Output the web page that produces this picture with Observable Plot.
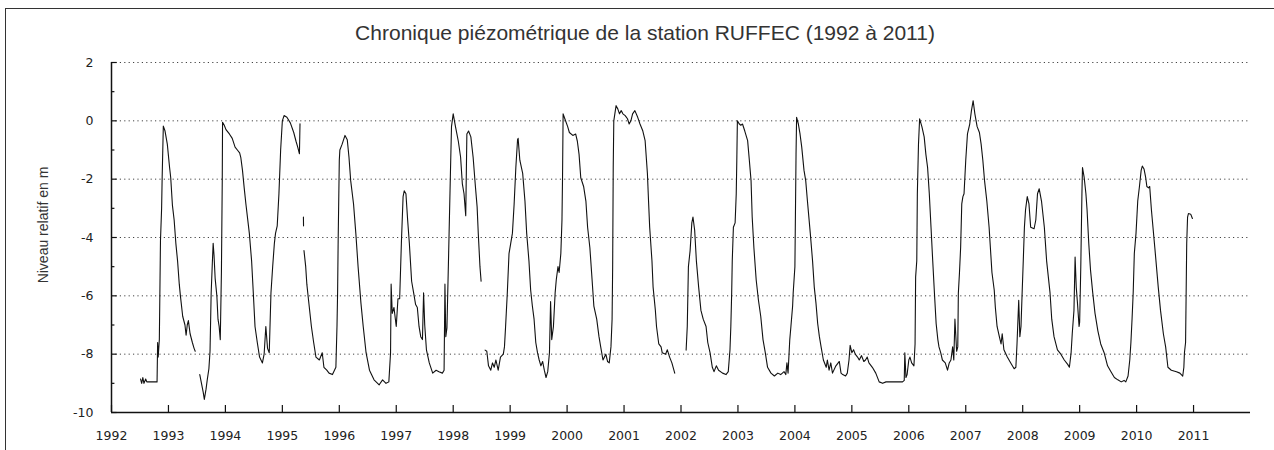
<!DOCTYPE html>
<html>
<head>
<meta charset="utf-8">
<script src="https://cdn.jsdelivr.net/npm/d3@7"></script>
<script src="https://cdn.jsdelivr.net/npm/@observablehq/plot@0.6"></script>
<style>
  body { margin: 0; background: #fff; }
  #wrap { position: relative; width: 1274px; height: 450px; overflow: hidden; background: #fff; }
  #frame { position: absolute; left: 5px; top: 8px; width: 1300px; height: 500px;
           border-top: 1.5px solid #333; border-left: 1.5px solid #333; }
  #title { position: absolute; left: 645px; top: 22px; transform: translateX(-50%);
           font: 21px "Liberation Sans", Arial, sans-serif; color: #333; white-space: nowrap; line-height: 1; }
  #ylab { position: absolute; left: 43px; top: 225px; transform: translate(-50%, -50%) rotate(-90deg);
          font: 14px "Liberation Sans", Arial, sans-serif; color: #333; white-space: nowrap; }
  #chart { position: absolute; left: 0; top: 50px; }
</style>
</head>
<body>
<div id="wrap">
  <div id="frame"></div>
  <div id="title">Chronique piézométrique de la station RUFFEC (1992 à 2011)</div>
  <div id="ylab">Niveau relatif en m</div>
  <div id="chart"></div>
</div>
<script>
// Ticks
const anneesTicks = [1992,1993,1994,1995,1996,1997,1998,1999,2000,2001,2002,2003,2004,2005,2006,2007,2008,2009,2010,2011];
const niveauxTicks = [-10,-8,-6,-4,-2,0,2];
const niveauxMineurs = [-9,-7,-5,-3,-1,1];
const grilleY = [-8,-6,-4,-2,0,2];

// Series: decimal year / relative level (m); null = gap in record
const annees = [
1992.51,1992.53,1992.55,1992.57,1992.60,1992.62,1992.66,1992.72,1992.80,1992.81,1992.82,1992.84,1992.86,1992.88,1992.89,1992.91,1992.94,1992.98,1993.02,1993.04,1993.07,1993.10,1993.13,1993.16,1993.19,1993.21,1993.25,1993.29,1993.31,1993.33,1993.35,1993.38,1993.42,1993.45,1993.47,
1993.50,
1993.55,1993.58,1993.61,1993.63,1993.66,1993.68,1993.71,1993.73,1993.75,1993.77,1993.785,1993.80,1993.82,1993.85,1993.87,1993.89,1993.91,1993.93,1993.945,1993.95,1993.98,1994.01,1994.07,1994.12,1994.17,1994.21,1994.25,1994.27,1994.30,1994.33,1994.36,1994.42,1994.46,1994.49,1994.52,1994.56,1994.60,1994.65,1994.68,1994.71,1994.74,1994.77,1994.80,1994.83,1994.86,1994.88,1994.91,1994.94,1994.97,1995.00,1995.03,1995.08,1995.14,1995.20,1995.24,1995.27,1995.30,1995.31,
1995.34,
1995.37,1995.372,
1995.375,
1995.38,1995.41,1995.43,1995.46,1995.51,1995.55,1995.59,1995.65,1995.70,1995.73,1995.78,1995.82,1995.88,1995.94,1995.96,1995.97,1995.98,1996.00,1996.01,1996.05,1996.10,1996.14,1996.17,1996.20,1996.25,1996.29,1996.33,1996.38,1996.42,1996.47,1996.53,1996.61,1996.70,1996.76,1996.82,1996.87,1996.90,1996.91,1996.93,1996.96,1997.00,1997.03,1997.06,1997.09,1997.12,1997.14,1997.17,1997.20,1997.23,1997.27,1997.31,1997.34,1997.37,1997.40,1997.43,1997.46,1997.48,1997.50,1997.53,1997.58,1997.64,1997.70,1997.75,1997.81,1997.84,1997.855,1997.87,1997.89,1997.92,1997.95,1997.97,1998.00,1998.04,1998.09,1998.13,1998.16,1998.19,1998.22,1998.24,1998.27,1998.31,1998.35,1998.39,1998.42,1998.44,1998.47,1998.49,
1998.52,
1998.56,1998.59,1998.62,1998.66,1998.69,1998.72,1998.75,1998.79,1998.83,1998.88,1998.90,1998.92,1998.95,1998.98,1999.01,1999.04,1999.07,1999.10,1999.13,1999.14,1999.17,1999.22,1999.26,1999.29,1999.33,1999.36,1999.39,1999.42,1999.45,1999.48,1999.51,1999.54,1999.57,1999.60,1999.63,1999.66,1999.69,1999.71,1999.73,1999.76,1999.79,1999.81,1999.84,1999.86,1999.89,1999.91,1999.92,1999.93,1999.96,2000.01,2000.04,2000.10,2000.15,2000.18,2000.21,2000.24,2000.29,2000.33,2000.36,2000.40,2000.43,2000.47,2000.52,2000.56,2000.59,2000.63,2000.68,2000.71,2000.74,2000.77,2000.79,2000.80,2000.81,2000.82,2000.86,2000.89,2000.92,2000.95,2000.98,2001.02,2001.06,2001.09,2001.12,2001.15,2001.19,2001.24,2001.28,2001.33,2001.37,2001.41,2001.43,2001.45,2001.49,2001.51,2001.55,2001.57,2001.61,2001.65,2001.67,2001.73,2001.76,2001.80,2001.84,2001.89,
2001.95,
2002.09,2002.11,2002.13,2002.16,2002.19,2002.21,2002.24,2002.27,2002.31,2002.35,2002.39,2002.44,2002.47,2002.51,2002.55,2002.58,2002.62,2002.66,2002.73,2002.79,2002.83,2002.86,2002.875,2002.89,2002.90,2002.92,2002.95,2002.97,2002.98,2002.99,2003.02,2003.05,2003.08,2003.12,2003.17,2003.20,2003.23,2003.25,2003.28,2003.32,2003.36,2003.40,2003.44,2003.48,2003.52,2003.58,2003.64,2003.70,2003.75,2003.81,2003.84,2003.86,2003.88,2003.91,2003.93,2003.96,2003.97,2004.00,2004.02,2004.03,2004.06,2004.09,2004.12,2004.16,2004.19,2004.22,2004.27,2004.31,2004.34,2004.37,2004.40,2004.43,2004.46,2004.50,2004.55,2004.57,2004.60,2004.63,2004.66,2004.72,2004.78,2004.81,2004.84,2004.89,2004.92,2004.95,2004.97,2005.00,2005.03,2005.06,2005.10,2005.13,2005.17,2005.21,2005.24,2005.27,2005.30,2005.36,2005.42,2005.48,2005.54,2005.60,2005.65,2005.71,2005.77,2005.83,2005.89,2005.92,2005.93,2005.95,2005.97,2006.00,2006.02,2006.05,2006.09,2006.11,2006.12,2006.14,2006.15,2006.17,2006.19,2006.23,2006.27,2006.30,2006.33,2006.36,2006.39,2006.42,2006.45,2006.48,2006.51,2006.53,2006.56,2006.59,2006.64,2006.68,2006.71,2006.74,2006.77,2006.79,2006.81,2006.84,2006.86,2006.87,2006.89,2006.91,2006.93,2006.95,2006.97,2007.00,2007.03,2007.07,2007.10,2007.13,2007.16,2007.20,2007.24,2007.27,2007.30,2007.33,2007.37,2007.41,2007.46,2007.50,2007.52,2007.55,2007.59,2007.62,2007.64,2007.67,2007.73,2007.79,2007.85,2007.88,2007.90,2007.93,2007.95,2007.97,2007.99,2008.01,2008.03,2008.05,2008.08,2008.11,2008.14,2008.20,2008.23,2008.26,2008.29,2008.33,2008.38,2008.42,2008.45,2008.48,2008.51,2008.55,2008.61,2008.67,2008.73,2008.79,2008.82,2008.85,2008.87,2008.90,2008.92,2008.94,2008.96,2008.99,2009.00,2009.02,2009.04,2009.05,2009.08,2009.11,2009.13,2009.16,2009.19,2009.23,2009.27,2009.32,2009.37,2009.43,2009.49,2009.55,2009.61,2009.67,2009.73,2009.78,2009.81,2009.85,2009.88,2009.90,2009.92,2009.94,2009.96,2009.99,2010.02,2010.05,2010.08,2010.10,2010.13,2010.16,2010.18,2010.21,2010.23,2010.26,2010.32,2010.38,2010.42,2010.47,2010.51,2010.55,2010.61,2010.70,2010.76,2010.81,2010.83,2010.84,2010.86,2010.87,2010.88,2010.895,2010.91,2010.95,2010.98
];
const niveaux = [
-8.85,-9.0,-8.8,-9.0,-8.85,-8.95,-8.95,-8.95,-8.95,-7.6,-8.1,-7.5,-4.1,-3.0,-1.9,-0.18,-0.35,-0.8,-1.6,-1.95,-2.9,-3.4,-4.2,-4.8,-5.6,-6.0,-6.7,-7.0,-7.35,-7.0,-6.85,-7.3,-7.6,-7.8,-7.9,
null,
-8.7,-9.0,-9.3,-9.55,-9.2,-8.9,-8.5,-7.9,-5.9,-4.9,-4.2,-4.6,-5.4,-6.0,-6.8,-7.05,-7.5,-5.2,-2.0,-0.05,-0.15,-0.3,-0.45,-0.6,-0.9,-1.0,-1.1,-1.25,-1.7,-2.3,-2.85,-3.85,-4.8,-5.9,-7.05,-7.6,-8.1,-8.3,-8.0,-7.05,-7.8,-7.95,-5.9,-5.0,-4.2,-3.86,-3.6,-2.5,-1.0,0.0,0.18,0.12,-0.07,-0.4,-0.7,-0.9,-1.13,-0.1,
null,
-3.3,-3.6,
null,
-4.45,-5.0,-5.6,-6.15,-7.05,-7.6,-8.1,-8.2,-7.95,-8.45,-8.55,-8.65,-8.7,-8.45,-7.0,-5.9,-4.1,-1.35,-1.0,-0.8,-0.5,-0.65,-1.25,-2.05,-2.85,-3.85,-5.0,-6.25,-7.05,-7.95,-8.55,-8.88,-9.05,-8.88,-9.0,-8.95,-7.95,-5.6,-6.6,-6.4,-7.05,-6.1,-6.1,-4.2,-2.6,-2.4,-2.5,-3.4,-4.2,-5.5,-5.95,-6.3,-6.4,-7.05,-7.4,-7.5,-5.9,-7.0,-7.85,-8.3,-8.65,-8.55,-8.6,-8.65,-8.55,-5.6,-7.4,-7.1,-4.55,-1.9,-0.2,0.24,-0.2,-0.7,-1.25,-2.15,-2.5,-3.25,-0.45,-0.35,-0.55,-1.25,-2.25,-2.95,-3.85,-5.0,-5.5,
null,
-7.86,-7.9,-8.4,-8.55,-8.3,-8.45,-8.2,-8.55,-8.1,-8.0,-7.75,-7.05,-5.9,-4.55,-4.2,-3.85,-2.85,-1.6,-0.65,-0.6,-1.35,-1.8,-2.75,-3.85,-4.8,-5.8,-6.35,-6.8,-7.6,-7.95,-8.2,-8.4,-8.25,-8.55,-8.8,-8.6,-7.95,-6.2,-7.5,-7.05,-5.9,-5.45,-5.0,-5.2,-4.55,-3.4,-1.9,0.24,0.07,-0.2,-0.4,-0.5,-0.45,-0.7,-1.15,-1.95,-2.25,-2.75,-3.65,-4.35,-5.2,-6.35,-6.8,-7.4,-7.75,-8.2,-8.0,-8.25,-8.3,-7.75,-6.8,-5.0,-1.6,0.0,0.52,0.41,0.24,0.35,0.24,0.18,0.07,-0.11,0.0,0.24,0.35,0.12,-0.11,-0.35,-0.68,-1.8,-2.75,-3.65,-4.8,-5.7,-6.5,-7.05,-7.65,-7.75,-7.95,-8.0,-7.85,-8.1,-8.3,-8.65,
null,
-7.86,-7.05,-5.0,-4.45,-3.5,-3.3,-3.75,-4.8,-5.7,-6.5,-6.8,-7.05,-7.6,-7.95,-8.45,-8.6,-8.4,-8.55,-8.65,-8.7,-8.6,-7.85,-7.05,-5.9,-4.8,-3.65,-3.5,-2.5,-1.35,0.0,-0.1,-0.15,-0.11,-0.35,-0.68,-1.35,-2.05,-3.3,-4.35,-5.45,-6.15,-6.7,-7.5,-7.95,-8.45,-8.65,-8.75,-8.65,-8.7,-8.6,-8.7,-8.3,-8.65,-7.5,-7.05,-6.35,-5.9,-5.0,-1.15,0.12,-0.1,-0.45,-0.9,-1.7,-2.05,-2.75,-3.85,-4.8,-5.7,-6.25,-6.95,-7.4,-7.75,-8.2,-8.45,-8.2,-8.55,-8.3,-8.65,-8.4,-8.25,-8.65,-8.7,-8.75,-8.65,-8.2,-7.7,-7.95,-7.85,-8.0,-8.1,-8.2,-8.05,-8.25,-8.2,-8.1,-8.3,-8.45,-8.65,-8.95,-9.0,-8.95,-8.95,-8.95,-8.95,-8.95,-8.95,-8.9,-7.95,-8.8,-8.7,-8.2,-8.1,-8.3,-8.4,-7.65,-5.35,-4.8,-2.5,-0.8,0.07,-0.2,-0.55,-1.15,-1.6,-2.5,-3.65,-4.8,-5.9,-6.95,-7.5,-7.75,-7.95,-8.2,-8.3,-8.55,-8.3,-8.2,-7.75,-8.2,-6.8,-7.9,-7.75,-5.9,-5.2,-4.35,-2.85,-2.6,-2.5,-1.35,-0.45,-0.11,0.35,0.69,0.24,-0.2,-0.4,-0.8,-1.35,-2.05,-2.75,-3.65,-5.2,-5.8,-6.4,-7.05,-7.4,-7.65,-7.3,-7.85,-8.1,-8.3,-8.5,-8.45,-7.65,-6.15,-7.4,-7.05,-5.9,-4.8,-3.65,-3.05,-2.6,-2.85,-3.65,-3.7,-3.4,-2.5,-2.33,-2.75,-3.65,-4.8,-5.35,-5.9,-6.8,-7.4,-7.85,-8.0,-8.2,-8.35,-8.45,-7.95,-7.3,-6.5,-4.67,-5.7,-6.2,-7.05,-6.9,-5.0,-2.5,-1.6,-1.95,-2.5,-3.05,-4.2,-5.1,-5.9,-6.6,-7.2,-7.65,-7.95,-8.4,-8.6,-8.8,-8.88,-8.95,-8.9,-8.95,-8.75,-8.2,-7.6,-6.8,-5.9,-4.55,-3.85,-2.75,-2.25,-1.7,-1.55,-1.65,-1.95,-2.25,-2.3,-2.25,-3.05,-4.35,-5.7,-6.5,-7.3,-7.75,-8.45,-8.55,-8.6,-8.65,-8.75,-8.45,-7.95,-7.6,-5.9,-4.2,-3.3,-3.18,-3.2,-3.35
];

const releves = annees.map((a, i) => ({annee: a, niveau: niveaux[i]}));

const chart = Plot.plot({
  width: 1274,
  height: 400,
  marginLeft: 111,
  marginRight: 24,
  marginTop: 12,
  marginBottom: 38,
  style: {fontFamily: "DejaVu Sans, sans-serif", fontSize: "12.5px", color: "#222", background: "transparent", overflow: "visible"},
  x: {domain: [1992, 2012]},
  y: {domain: [-10, 2]},
  marks: [
    Plot.ruleY(grilleY, {y: d => d, x1: 1992, x2: 2012, stroke: "#444", strokeDasharray: "1.2,3.2", strokeWidth: 1}),
    Plot.ruleX([1992], {x: d => d, y1: -10, y2: 2, stroke: "#111", strokeWidth: 1.5}),
    Plot.ruleY([-10], {y: d => d, x1: 1992, x2: 2012, stroke: "#111", strokeWidth: 1.5}),
    Plot.ruleX(anneesTicks, {x: d => d, y1: -10, y2: -9.76, stroke: "#111", strokeWidth: 1.2}),
    Plot.ruleY(niveauxTicks, {y: d => d, x1: 1992, x2: 1992.1, stroke: "#111", strokeWidth: 1.2}),
    Plot.ruleY(niveauxMineurs, {y: d => d, x1: 1992, x2: 1992.06, stroke: "#111", strokeWidth: 1.2}),
    Plot.axisX({ticks: anneesTicks, tickFormat: d => String(d), tickSize: 0, tickPadding: 19, label: null}),
    Plot.axisY({ticks: niveauxTicks, tickFormat: d => String(d), tickSize: 0, tickPadding: 18, label: null}),
    Plot.line(releves, {x: "annee", y: "niveau", stroke: "#111", strokeWidth: 1.1})
  ]
});
document.getElementById("chart").appendChild(chart);
</script>
</body>
</html>
